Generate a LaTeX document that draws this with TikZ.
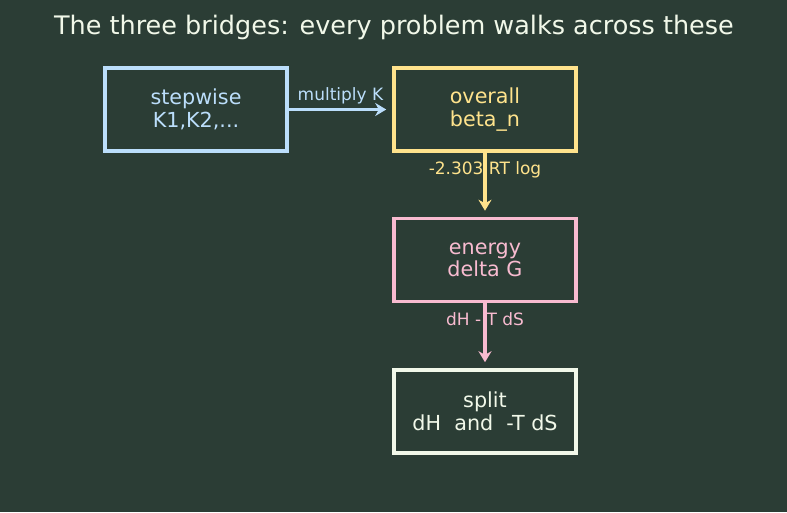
\documentclass[tikz,border=0pt]{standalone}
\usepackage{fontspec}
\setmainfont{DejaVu Sans}
\usetikzlibrary{arrows.meta}
\definecolor{bg}{HTML}{2B3D35}
\definecolor{cblue}{HTML}{BBDEFB}
\definecolor{cyel}{HTML}{FFE38C}
\definecolor{cpink}{HTML}{F8BBD0}
\definecolor{cwhite}{HTML}{F1F8E9}
\tikzset{
  box/.style={draw, line width=3.5pt, minimum width=182pt, minimum height=83pt, align=center, inner sep=0pt, font=\fontsize{20.7}{22.5}\selectfont},
  conn/.style={line width=3.5pt, -{Stealth[length=11pt,width=13pt,inset=3.5pt]}, shorten >=6pt},
  lab/.style={font=\fontsize{17}{18}\selectfont, inner sep=1pt}
}
\begin{document}
\begin{tikzpicture}[x=1pt,y=-1pt]
\fill[bg] (0,0) rectangle (787,512);
\useasboundingbox (0,0) rectangle (787,512);
\node[text=cwhite, font=\fontsize{25.5}{28}\selectfont] (title) at (394,27) {The three bridges: every problem walks across these};
\node[box, draw=cblue, text=cblue] (step) at (196,109.5) {stepwise\\K1,K2,...};
\node[box, draw=cyel, text=cyel] (over) at (485,109.5) {overall\\beta\_n};
\node[box, draw=cpink, text=cpink] (ener) at (485,260) {energy\\delta G};
\node[box, draw=cwhite, text=cwhite] (split) at (485,411.5) {split\\dH\ \ and\ \ -T dS};
\draw[conn, draw=cblue] (step) -- node[lab, text=cblue, above, yshift=3pt] {multiply K} (over);
\draw[conn, draw=cyel] (over) -- node[lab, text=cyel, pos=0.27] {-2.303 RT log} (ener);
\draw[conn, draw=cpink] (ener) -- node[lab, text=cpink, pos=0.25] {dH - T dS} (split);
\end{tikzpicture}
\end{document}
